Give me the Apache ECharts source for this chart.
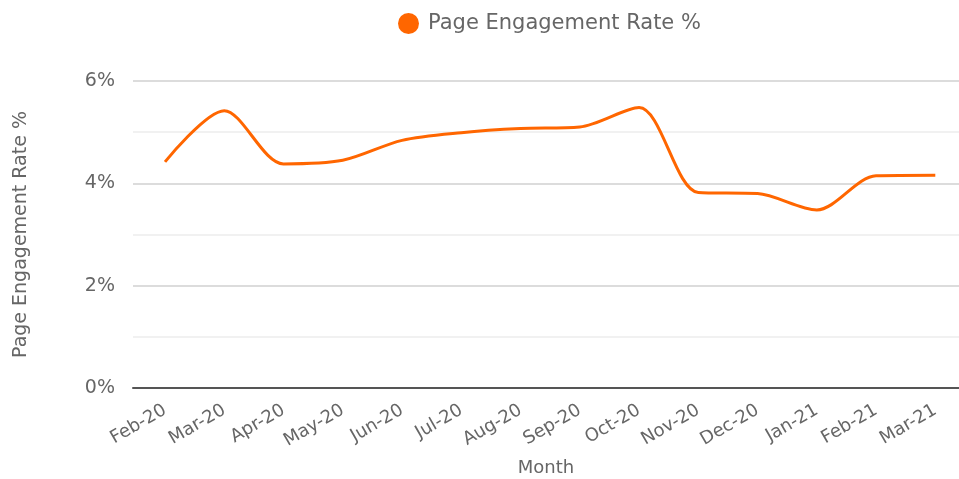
<!DOCTYPE html>
<html>
<head>
<meta charset="utf-8">
<script src="https://cdn.jsdelivr.net/npm/echarts@6/dist/echarts.min.js"></script>
<style>
  html, body { margin: 0; padding: 0; background: #fff; }
  #main { width: 959px; height: 479px; }
</style>
</head>
<body>
<div id="main"></div>
<script>
var months = ['Feb-20', 'Mar-20', 'Apr-20', 'May-20', 'Jun-20', 'Jul-20', 'Aug-20',
  'Sep-20', 'Oct-20', 'Nov-20', 'Dec-20', 'Jan-21', 'Feb-21', 'Mar-21'];
var engagementRate = [4.42, 5.42, 4.38, 4.45, 4.84, 4.99, 5.07,
  5.10, 5.48, 3.82, 3.80, 3.48, 4.15, 4.16];
var yTicks = [0, 1, 2, 3, 4, 5, 6];

var chart = echarts.init(document.getElementById('main'), null, { renderer: 'canvas' });

var font = 'DejaVu Sans';
var seriesData = engagementRate.map(function (v, i) { return [i, v]; });

var option = {
  animation: false,
  textStyle: { fontFamily: font },
  color: ['#ff6600'],
  legend: {
    data: ['Page Engagement Rate %'],
    top: 8,
    left: 393,
    icon: 'circle',
    itemWidth: 21,
    itemHeight: 21,
    textStyle: { fontFamily: font, fontSize: 21, color: '#666', padding: [0, 0, 0, 4] }
  },
  grid: {
    left: 133,
    right: 0,
    top: 81,
    bottom: 91,
    outerBoundsMode: 'none'
  },
  xAxis: {
    type: 'value',
    min: -0.54,
    max: 13.4,
    name: 'Month',
    nameLocation: 'middle',
    nameGap: 71,
    nameTextStyle: { fontFamily: font, fontSize: 18, color: '#666' },
    axisLine: { show: true, lineStyle: { color: '#555', width: 2 } },
    axisTick: { show: false },
    splitLine: { show: false },
    axisLabel: {
      customValues: months.map(function (m, i) { return i; }),
      formatter: function (v) { return months[Math.round(v)]; },
      rotate: 30,
      margin: 21,
      fontFamily: font,
      fontSize: 18,
      color: '#666'
    }
  },
  yAxis: {
    type: 'value',
    min: yTicks[0],
    max: yTicks[yTicks.length - 1],
    interval: 1,
    name: 'Page Engagement Rate %',
    nameLocation: 'middle',
    nameGap: 102,
    nameTextStyle: { fontFamily: font, fontSize: 19, color: '#666' },
    axisLine: { show: false },
    axisTick: { show: false },
    axisLabel: {
      margin: 18,
      fontFamily: font,
      fontSize: 19,
      color: '#666',
      formatter: function (v) { return v % 2 === 0 ? v + '%' : ''; }
    },
    splitLine: {
      lineStyle: { color: ['#d0d0d0', '#ececec'], width: 1.5 }
    }
  },
  series: [{
    name: 'Page Engagement Rate %',
    type: 'line',
    smooth: 0.3,
    showSymbol: false,
    symbol: 'circle',
    lineStyle: { width: 3, color: '#ff6600' },
    data: seriesData
  }]
};

chart.setOption(option);
</script>
</body>
</html>
